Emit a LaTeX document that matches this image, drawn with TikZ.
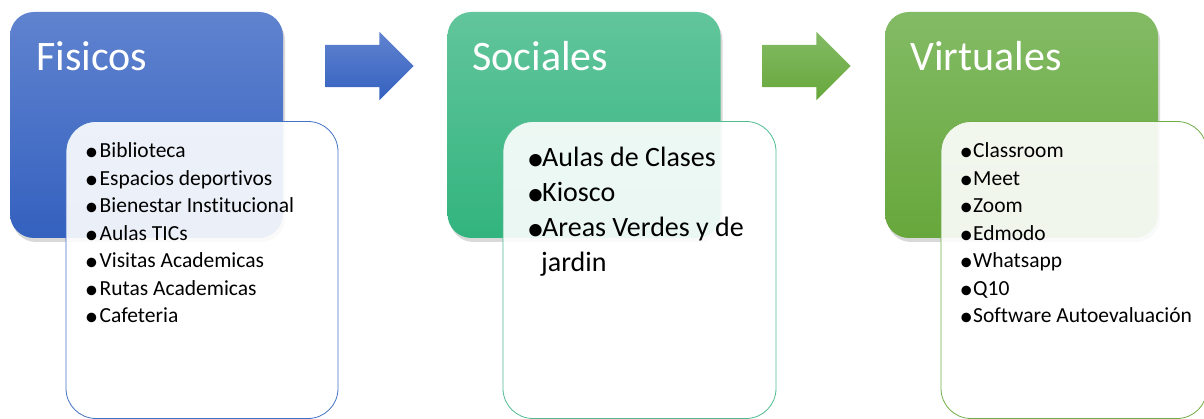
\documentclass[tikz,border=0pt]{standalone}
\usepackage{fontspec}
\setmainfont{Carlito}[Ligatures={NoCommon}]
\usetikzlibrary{shapes.arrows,shadows}
\definecolor{fisTop}{RGB}{96,131,207}
\definecolor{fisBot}{RGB}{52,97,191}
\definecolor{fisLine}{RGB}{68,114,196}
\definecolor{socTop}{RGB}{98,197,156}
\definecolor{socBot}{RGB}{50,180,126}
\definecolor{socLine}{RGB}{80,188,144}
\definecolor{virTop}{RGB}{131,187,101}
\definecolor{virBot}{RGB}{103,167,59}
\definecolor{virLine}{RGB}{112,173,71}
\newcommand{\bul}[1]{\makebox[#1][c]{\raisebox{-0.12em}{\scalebox{1.25}{\textbullet}}}}
\begin{document}
\begin{tikzpicture}[x=1pt,y=-1pt,
    header/.style={rounded corners=24pt, minimum width=273pt, minimum height=226pt, inner sep=0pt,
        drop shadow={opacity=0.3, shadow xshift=2pt, shadow yshift=-4pt}},
    listbox/.style={draw, line width=0.8pt, fill=white, fill opacity=0.9, rounded corners=30pt,
        minimum height=297pt, inner sep=0pt},
    title/.style={anchor=base west, inner sep=0pt, text=white, font=\fontsize{42}{50}\selectfont},
    item/.style={anchor=base west, inner sep=0pt, font=\fontsize{21.5}{26}\selectfont},
    bigitem/.style={item, font=\fontsize{28}{34}\selectfont},
    flow/.style={single arrow, minimum height=88pt, minimum width=68pt, inner sep=0pt,
        inner ysep=21pt, single arrow head extend=13pt}]
    \useasboundingbox (0,0) rectangle (1204,419);

    % Fisicos
    \node[header, top color=fisTop, bottom color=fisBot] (fisicos) at (146.5,125) {};
    \node[title] (fisT) at (36,71) {Fisicos};
    \node[listbox, draw=fisLine, minimum width=272pt] (fisList) at (202,270) {};
    \foreach \t [count=\i] in {Biblioteca, Espacios deportivos, Bienestar Institucional,
        Aulas TICs, Visitas Academicas, Rutas Academicas, Cafeteria}
        \node[item] (fis\i) at (83,{158+27.5*(\i-1)}) {\bul{16.5pt}\t};

    % Sociales
    \node[flow, top color=fisTop, bottom color=fisBot] (arr1) at (359,66) {};
    \node[header, top color=socTop, bottom color=socBot] (sociales) at (584,125) {};
    \node[title] (socT) at (472,71) {Sociales};
    \node[listbox, draw=socLine, minimum width=273pt] (socList) at (639.5,270) {};
    \node[bigitem] (soc1) at (529,167) {\bul{13pt}Aulas de Clases};
    \node[bigitem] (soc2) at (529,202) {\bul{13pt}Kiosco};
    \node[bigitem] (soc3) at (529,237) {\bul{13pt}Areas Verdes y de};
    \node[bigitem] (soc4) at (541,272) {jardin};

    % Virtuales
    \node[flow, top color=virTop, bottom color=virBot] (arr2) at (796,66) {};
    \node[header, top color=virTop, bottom color=virBot] (virtuales) at (1021.5,125) {};
    \node[title] (virT) at (910,71) {Virtuales};
    \node[listbox, draw=virLine, minimum width=266pt] (virList) at (1074,270) {};
    \foreach \t [count=\i] in {Classroom, Meet, Zoom, Edmodo, Whatsapp, Q10,
        Software Autoevaluación}
        \node[item] (vir\i) at (959,{158+27.5*(\i-1)}) {\bul{14pt}\t};
\end{tikzpicture}
\end{document}
